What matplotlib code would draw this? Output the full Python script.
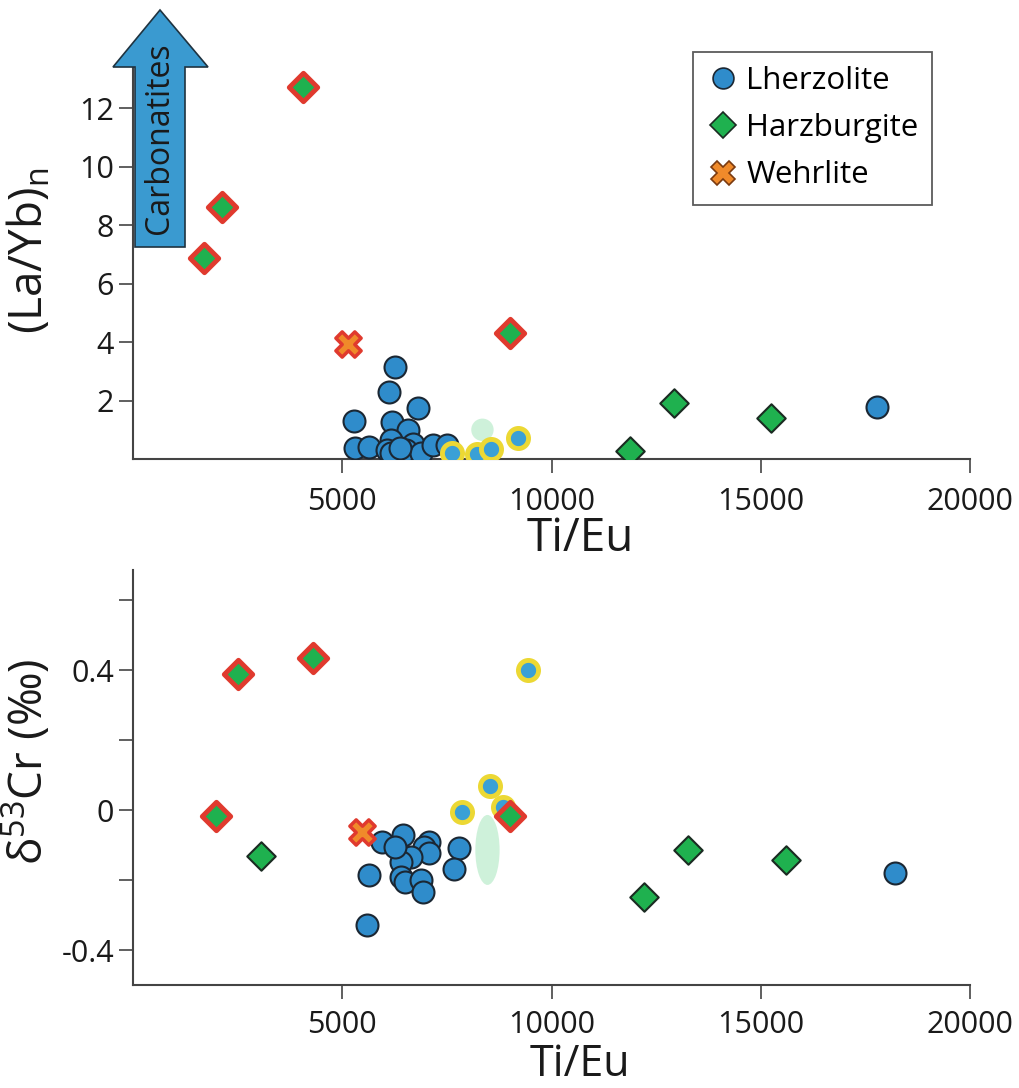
import matplotlib
matplotlib.use('Agg')
import matplotlib.pyplot as plt
from matplotlib.patches import Ellipse, Polygon
from matplotlib.lines import Line2D

plt.rcParams['font.family'] = ['Open Sans', 'DejaVu Sans']
plt.rcParams['mathtext.fontset'] = 'custom'
plt.rcParams['mathtext.rm'] = 'Open Sans'
plt.rcParams['mathtext.default'] = 'regular'

# ---- top panel: (La/Yb)n vs Ti/Eu ----
lhz_x_top = [6270, 6120, 6820, 5290, 6200, 6580, 6170, 6700, 5310, 5650, 6080, 6170,
             6530, 6890, 7180, 7510, 6390, 17780]
lhz_y_top = [3.15, 2.3, 1.75, 1.3, 1.27, 0.99, 0.65, 0.5, 0.37, 0.41, 0.31, 0.2,
             0.3, 0.2, 0.48, 0.48, 0.37, 1.78]
lhzy_x_top = [7630, 8230, 8560, 9190]
lhzy_y_top = [0.2, 0.18, 0.34, 0.72]
hz_x_top = [11870, 12920, 15240]
hz_y_top = [0.27, 1.9, 1.4]
hzr_x_top = [1700, 2130, 4070, 9020]
hzr_y_top = [6.87, 8.62, 12.75, 4.3]
wh_x_top = [5140]
wh_y_top = [3.93]
pale_top = (8350, 1.0)

# ---- bottom panel: d53Cr vs Ti/Eu ----
lhz_x_bot = [5960, 6460, 7080, 6960, 7080, 6650, 6410, 7800, 7680, 5650, 6410, 6510,
             6890, 6940, 5600, 6250, 18200]
lhz_y_bot = [-0.091, -0.071, -0.091, -0.106, -0.123, -0.134, -0.149, -0.109, -0.169,
             -0.186, -0.191, -0.206, -0.2, -0.234, -0.329, -0.105, -0.18]
lhzy_x_bot = [9430, 8520, 7850, 8850]
lhzy_y_bot = [0.40, 0.069, -0.005, 0.008]
hz_x_bot = [3050, 12220, 13250, 15600]
hz_y_bot = [-0.13, -0.249, -0.114, -0.143]
hzr_x_bot = [2510, 4300, 1990, 9020]
hzr_y_bot = [0.389, 0.434, -0.017, -0.017]
wh_x_bot = [5480]
wh_y_bot = [-0.063]
pale_bot = (8470, -0.114, 580, 0.2)

blue = '#2f8ccb'
blue_l = '#3aa0d6'
green = '#1fb14f'
red = '#e03a2e'
yellow = '#ecd834'
orange = '#f08a2a'
spine_c = '#444444'

fig = plt.figure(figsize=(10.2, 10.88), dpi=100)
ax1 = fig.add_axes([133/1020, 1-459/1088, 837/1020, 409/1088])
ax2 = fig.add_axes([133/1020, 1-985/1088, 837/1020, 415/1088])


def draw(ax, lx, ly, yx, yy, hx, hy, rx, ry, wx, wy):
    ax.scatter(lx, ly, s=250, c=blue, edgecolors='#1b2733', linewidths=1.5, zorder=3)
    ax.scatter(yx, yy, s=210, c=blue_l, edgecolors=yellow, linewidths=3.5, zorder=3)
    ax.scatter(hx, hy, s=210, marker='D', c=green, edgecolors='#1b2b22', linewidths=1.5, zorder=3)
    ax.scatter(rx, ry, s=210, marker='D', c=green, edgecolors=red, linewidths=3.5, zorder=4)
    ax.scatter(wx, wy, s=330, marker='X', c=orange, edgecolors=red, linewidths=2.5, zorder=4)


draw(ax1, lhz_x_top, lhz_y_top, lhzy_x_top, lhzy_y_top, hz_x_top, hz_y_top,
     hzr_x_top, hzr_y_top, wh_x_top, wh_y_top)
ax1.scatter([pale_top[0]], [pale_top[1]], s=260, c='#c9f0d6', edgecolors='none', alpha=0.9, zorder=2)

draw(ax2, lhz_x_bot, lhz_y_bot, lhzy_x_bot, lhzy_y_bot, hz_x_bot, hz_y_bot,
     hzr_x_bot, hzr_y_bot, wh_x_bot, wh_y_bot)
ax2.add_patch(Ellipse((pale_bot[0], pale_bot[1]), pale_bot[2], pale_bot[3],
                      facecolor='#c9f0d6', edgecolor='none', alpha=0.9, zorder=2))

for ax in (ax1, ax2):
    ax.set_xlim(0, 20000)
    ax.set_xticks([5000, 10000, 15000, 20000])
    ax.set_xticklabels(['5000', '10000', '15000', '20000'])
    for s in ('top', 'right'):
        ax.spines[s].set_visible(False)
    for s in ('left', 'bottom'):
        ax.spines[s].set_color(spine_c)
        ax.spines[s].set_linewidth(1.5)
    ax.tick_params(direction='out', length=10, width=1.2, color=spine_c,
                   labelsize=22, labelcolor='#1a1a1a')
    ax.patch.set_alpha(0)

ax1.tick_params(axis='x', pad=10)
ax2.tick_params(axis='x', pad=8)

ax1.set_xlabel('Ti/Eu', fontsize=33, color='#1a1a1a', va='top')
ax2.set_xlabel('Ti/Eu', fontsize=31, color='#1a1a1a', va='top')

ax1.set_ylim(0, 14)
ax1.set_yticks([2, 4, 6, 8, 10, 12])
ax1.set_ylabel('(La/Yb)$_n$', fontsize=33, color='#1a1a1a')
ax1.yaxis.set_label_coords(-0.095, 0.51)
ax1.xaxis.set_label_coords(0.534, -0.14)

ax2.set_ylim(-0.5, 0.686)
ax2.set_yticks([-0.4, -0.2, 0, 0.2, 0.4, 0.6])
ax2.set_yticklabels(['-0.4', '', '0', '', '0.4', ''])
ax2.set_ylabel('δ$^{53}$Cr (‰)', fontsize=33, color='#1a1a1a')
ax2.yaxis.set_label_coords(-0.095, 0.537)
ax2.xaxis.set_label_coords(0.534, -0.138)

# Carbonatites arrow (figure pixels)
pts = [(135, 247), (135, 67), (113, 67), (160, 10), (208, 67), (185, 67), (185, 247)]
arrow = Polygon([(x/1020, 1-y/1088) for x, y in pts], closed=True,
                transform=fig.transFigure, facecolor='#3a9ad0', edgecolor='#1f3340',
                linewidth=1.2, zorder=10)
fig.patches.append(arrow)
fig.text(160/1020, 1-138/1088, 'Carbonatites', rotation=90, ha='center', va='center',
         fontsize=23, color='#1a1a1a', zorder=11)

handles = [
    Line2D([], [], ls='none', marker='o', ms=15, mfc=blue, mec='#1b2733', mew=1.2),
    Line2D([], [], ls='none', marker='D', ms=13, mfc=green, mec='#1b2b22', mew=1.2),
    Line2D([], [], ls='none', marker='X', ms=17, mfc=orange, mec='#7a3a10', mew=1.2),
]
leg = fig.legend(handles, ['Lherzolite', 'Harzburgite', 'Wehrlite'],
                 loc='upper left', bbox_to_anchor=(693/1020, 1-52/1088),
                 fontsize=22.5, frameon=True, fancybox=False, borderaxespad=0,
                 handletextpad=0.25, handlelength=1.0, labelspacing=0.55,
                 borderpad=0.45)
leg.get_frame().set_edgecolor('#333333')
leg.get_frame().set_linewidth(1.3)

plt.savefig('out.png', dpi=100, facecolor='white')
